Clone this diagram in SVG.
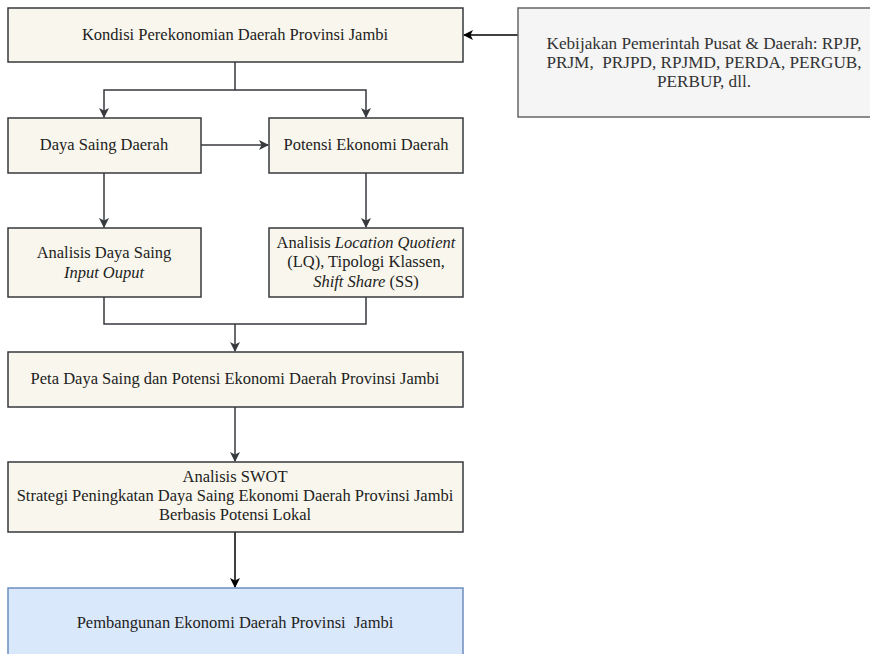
<svg xmlns="http://www.w3.org/2000/svg" width="870" height="654" viewBox="0 0 870 654" font-family="'Liberation Serif', 'Times New Roman', 'DejaVu Serif', serif">
<style>
.n{fill:#f9f7ed;stroke:#36393d;stroke-width:1.5}
.p{fill:#f5f5f5;stroke:#666666;stroke-width:1.5}
.b{fill:#dae8fc;stroke:#6c8ebf;stroke-width:1.5}
text{font-size:16.5px;fill:#222;text-anchor:middle}
.g{fill:#333333;font-size:17.2px}
.c{fill:none;stroke:#36393d;stroke-width:1.5}
.k{fill:none;stroke:#000;stroke-width:1.5}
</style>
<defs>
<marker id="a" viewBox="0 0 10 10" refX="9" refY="5" markerWidth="10" markerHeight="10" markerUnits="userSpaceOnUse" orient="auto"><path d="M0,0 L10,5 L0,10 L2.5,5 Z" fill="#36393d"/></marker>
<marker id="ak" viewBox="0 0 10 10" refX="9" refY="5" markerWidth="10" markerHeight="10" markerUnits="userSpaceOnUse" orient="auto"><path d="M0,0 L10,5 L0,10 L2.5,5 Z" fill="#000"/></marker>
</defs>
<g id="connectors">
<path class="k" d="M518,35 H464" marker-end="url(#ak)"/>
<path class="c" d="M235,62 V90 H104 V117" marker-end="url(#a)"/>
<path class="c" d="M235,90 H366 V117" marker-end="url(#a)"/>
<path class="c" d="M201,145 H268" marker-end="url(#a)"/>
<path class="c" d="M104,173 V227" marker-end="url(#a)"/>
<path class="c" d="M366,173 V227" marker-end="url(#a)"/>
<path class="c" d="M104,297 V324 H366 V297"/>
<path class="c" d="M235,324 V351" marker-end="url(#a)"/>
<path class="c" d="M235,407 V461" marker-end="url(#a)"/>
<path class="k" d="M235,532 V587" marker-end="url(#ak)"/>
</g>
<g id="kondisi"><rect class="n" x="8" y="8" width="455" height="54"/><text x="235" y="40">Kondisi Perekonomian Daerah Provinsi Jambi</text></g>
<g id="kebijakan"><rect class="p" x="518" y="8" width="372" height="109"/><text class="g" x="704" y="49">Kebijakan Pemerintah Pusat &amp; Daerah: RPJP,</text><text class="g" x="704" y="68" xml:space="preserve">PRJM,  PRJPD, RPJMD, PERDA, PERGUB,</text><text class="g" x="704" y="87">PERBUP, dll.</text></g>
<g id="dayasaing"><rect class="n" x="8" y="118" width="193" height="55"/><text x="104" y="150">Daya Saing Daerah</text></g>
<g id="potensi"><rect class="n" x="269" y="118" width="194" height="55"/><text x="366" y="150">Potensi Ekonomi Daerah</text></g>
<g id="analisisds"><rect class="n" x="8" y="228" width="193" height="69"/><text x="104" y="258">Analisis Daya Saing</text><text x="104" y="278" font-style="italic">Input Ouput</text></g>
<g id="analisislq"><rect class="n" x="269" y="228" width="194" height="69"/><text x="366" y="248">Analisis <tspan font-style="italic">Location Quotient</tspan></text><text x="366" y="267">(LQ), Tipologi Klassen,</text><text x="366" y="287"><tspan font-style="italic">Shift Share</tspan> (SS)</text></g>
<g id="peta"><rect class="n" x="8" y="352" width="455" height="55"/><text x="235" y="384">Peta Daya Saing dan Potensi Ekonomi Daerah Provinsi Jambi</text></g>
<g id="swot"><rect class="n" x="8" y="462" width="455" height="70"/><text x="235" y="482">Analisis SWOT</text><text x="235" y="501">Strategi Peningkatan Daya Saing Ekonomi Daerah Provinsi Jambi</text><text x="235" y="520">Berbasis Potensi Lokal</text></g>
<g id="pembangunan"><rect class="b" x="8" y="588" width="455" height="72"/><text x="235" y="628" xml:space="preserve">Pembangunan Ekonomi Daerah Provinsi  Jambi</text></g>
</svg>
